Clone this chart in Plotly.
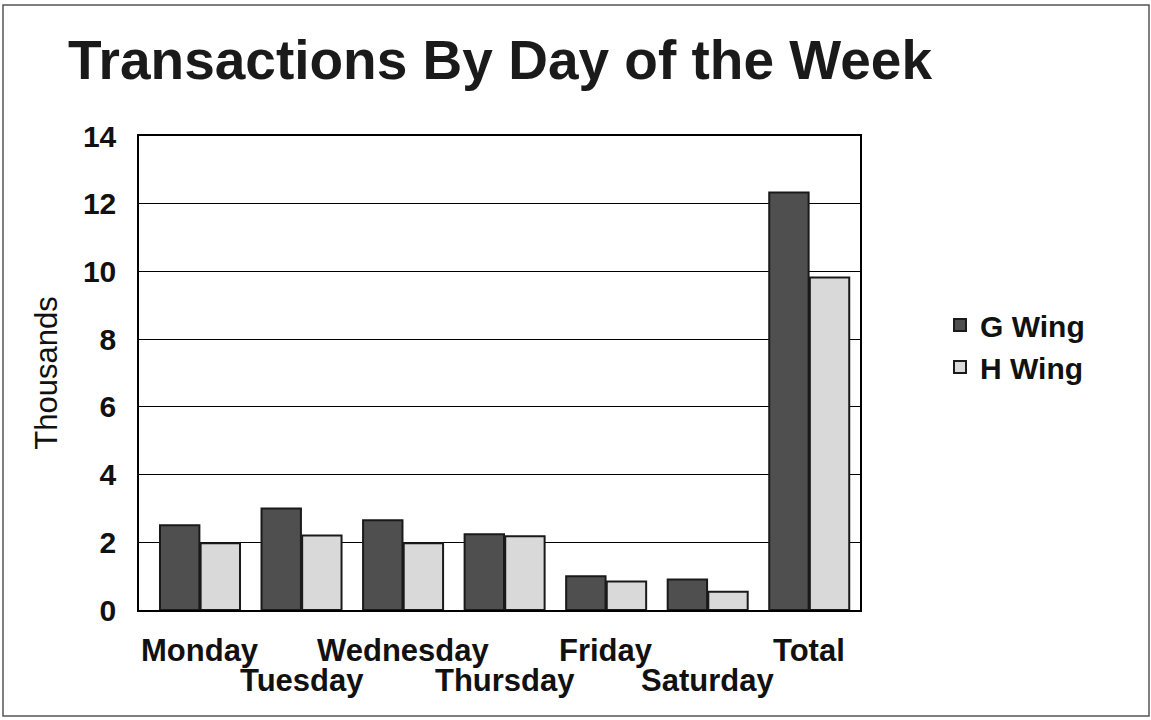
import plotly.graph_objects as go

categories = ["Monday", "Tuesday", "Wednesday", "Thursday", "Friday", "Saturday", "Total"]
g_wing = [2.5, 3.0, 2.65, 2.24, 1.0, 0.9, 12.33]
h_wing = [1.97, 2.2, 1.97, 2.18, 0.84, 0.54, 9.82]
y_ticks = [0, 2, 4, 6, 8, 10, 12, 14]
series_names = ["G Wing", "H Wing"]

FONT = "Liberation Sans, Arial, sans-serif"

fig = go.Figure()
fig.add_trace(go.Bar(
    name=series_names[0], x=categories, y=g_wing,
    marker=dict(color="#4f4f4f", line=dict(color="#1a1a1a", width=2)),
))
fig.add_trace(go.Bar(
    name=series_names[1], x=categories, y=h_wing,
    marker=dict(color="#d9d9d9", line=dict(color="#1a1a1a", width=2)),
))

# staggered category labels
for i, c in enumerate(categories):
    fig.add_annotation(
        x=c, xref="x", y=0, yref="paper",
        text="<b>%s</b>" % c, showarrow=False,
        yanchor="middle", yshift=-40 if i % 2 == 0 else -70,
        font=dict(family=FONT, size=31, color="#111111"),
    )

W, H = 1151, 720
L, R, T, B = 139, 291, 136, 110
pw, ph = W - L - R, H - T - B
fig.add_shape(
    type="rect", xref="paper", yref="paper",
    x0=(3 - L) / pw, x1=(1149 - L) / pw,
    y0=(H - B - 716) / ph, y1=(H - B - 5) / ph,
    line=dict(color="#555555", width=1.5), fillcolor="rgba(0,0,0,0)", layer="below",
)

fig.update_layout(
    width=W, height=H,
    margin=dict(l=L, r=R, t=T, b=B),
    paper_bgcolor="white", plot_bgcolor="white",
    barmode="group", bargap=0.2, bargroupgap=0.03,
    title=dict(
        text="<b>Transactions By Day of the Week</b>",
        x=68 / W, xanchor="left", xref="container",
        y=1 - 60 / H, yanchor="middle", yref="container",
        font=dict(family=FONT, size=55, color="#1a1a1a"),
    ),
    legend=dict(
        x=(940 - L) / pw, xanchor="left", y=(610 - 346) / ph, yanchor="middle",
        font=dict(family=FONT, size=30, color="#111111", weight="bold"),
        bgcolor="rgba(0,0,0,0)", tracegroupgap=0, itemwidth=30,
    ),
    font=dict(family=FONT, color="#111111"),
)
fig.update_xaxes(
    showticklabels=False, showline=True, linecolor="black", linewidth=1.5,
    mirror=True, ticks="", showgrid=False,
)
fig.update_yaxes(
    range=[0, 14], tickvals=y_ticks, ticktext=["<b>%d</b>" % v for v in y_ticks],
    tickfont=dict(family=FONT, size=30, color="#111111"),
    showgrid=True, gridcolor="black", gridwidth=1.2,
    showline=True, linecolor="black", linewidth=1.5, mirror=True,
    ticks="", ticklabelstandoff=15, zeroline=False,
    title=dict(text="Thousands", font=dict(family=FONT, size=31, color="#111111"), standoff=16),
)

fig.write_html("out.html", config={"displayModeBar": False},
               post_script="document.body.style.margin='0';")
